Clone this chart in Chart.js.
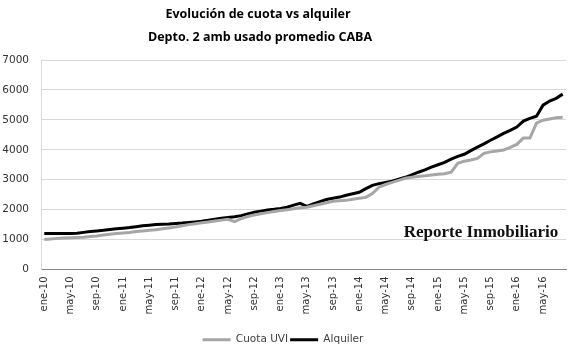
<!DOCTYPE html>
<html>
<head>
<meta charset="utf-8">
<script src="https://cdn.jsdelivr.net/npm/chart.js@4"></script>
<style>
  html, body { margin: 0; padding: 0; background: #fff; }
  #wrap { width: 575px; height: 352px; }
</style>
</head>
<body>
<div id="wrap"><canvas id="chartCuota" width="575" height="352"></canvas></div>
<script>
const meses = ['ene', 'feb', 'mar', 'abr', 'may', 'jun', 'jul', 'ago', 'sep', 'oct', 'nov', 'dic'];
const anios = ['10', '11', '12', '13', '14', '15', '16'];

// ene-10 .. ago-16
const categorias = [];
anios.forEach(a => meses.forEach(m => categorias.push(m + '-' + a)));
categorias.length = 80;

const cuotaUVI = [
  1000, 1020, 1040, 1050, 1060, 1070, 1080, 1100, 1120, 1150, 1180, 1200,
  1220, 1240, 1270, 1290, 1310, 1330, 1360, 1390, 1420, 1460, 1500, 1530,
  1560, 1590, 1620, 1650, 1680, 1600, 1700, 1770, 1820, 1860, 1900, 1940,
  1970, 2000, 2030, 2060, 2080, 2130, 2180, 2230, 2280, 2300, 2310, 2350,
  2380, 2410, 2540, 2750, 2840, 2910, 2980, 3050, 3080, 3110, 3130, 3160,
  3180, 3200, 3250, 3550, 3620, 3660, 3710, 3880, 3930, 3960, 3990, 4080,
  4180, 4390, 4390, 4890, 4990, 5030, 5070, 5090
];

const alquiler = [
  1200, 1200, 1200, 1200, 1200, 1210, 1240, 1270, 1290, 1310, 1340, 1360,
  1380, 1400, 1430, 1460, 1480, 1500, 1510, 1520, 1540, 1550, 1570, 1590,
  1610, 1650, 1680, 1710, 1740, 1760, 1800, 1860, 1910, 1950, 1990, 2010,
  2040, 2080, 2150, 2210, 2110, 2190, 2270, 2340, 2380, 2420, 2480, 2530,
  2580, 2700, 2810, 2870, 2910, 2950, 3020, 3080, 3160, 3250, 3330, 3420,
  3500, 3580, 3690, 3780, 3850, 3970, 4090, 4200, 4320, 4430, 4550, 4650,
  4760, 4960, 5050, 5120, 5490, 5630, 5720, 5860
];

const yTicks = [0, 1000, 2000, 3000, 4000, 5000, 6000, 7000];
const titulo = ['Evolución de cuota vs alquiler', 'Depto. 2 amb usado promedio CABA'];

// titulo centrado como en el original (algo a la izquierda del centro)
const tituloPlugin = {
  id: 'tituloPlugin',
  afterDraw(chart) {
    const { ctx } = chart;
    ctx.save();
    ctx.font = 'bold 12.5px "Open Sans", sans-serif';
    ctx.fillStyle = '#000';
    ctx.textAlign = 'center';
    ctx.textBaseline = 'middle';
    ctx.fillText(titulo[0], 258, 14);
    ctx.fillText(titulo[1], 260, 37);
    ctx.restore();
  }
};

const marcaAgua = {
  id: 'marcaAgua',
  beforeDatasetsDraw(chart) {
    const { ctx, chartArea } = chart;
    ctx.save();
    ctx.font = 'bold 17px "Liberation Serif", serif';
    ctx.fillStyle = '#111';
    ctx.textAlign = 'center';
    ctx.textBaseline = 'middle';
    ctx.fillText('Reporte Inmobiliario', chartArea.right - 85, chartArea.bottom - 37);
    ctx.restore();
  }
};

const fontTicks = { family: '"DejaVu Sans", Verdana, sans-serif', size: 10 };

new Chart(document.getElementById('chartCuota'), {
  type: 'line',
  data: {
    labels: categorias,
    datasets: [
      {
        label: 'Cuota UVI',
        data: cuotaUVI,
        borderColor: '#a6a6a6',
        backgroundColor: '#a6a6a6',
        borderWidth: 3,
        pointRadius: 0,
        tension: 0
      },
      {
        label: 'Alquiler',
        data: alquiler,
        borderColor: '#000000',
        backgroundColor: '#000000',
        borderWidth: 3,
        pointRadius: 0,
        tension: 0
      }
    ]
  },
  options: {
    responsive: false,
    animation: false,
    layout: { padding: { left: 0, right: 9, top: 60, bottom: -3 } },
    plugins: {
      title: { display: false },
      legend: {
        position: 'bottom',
        labels: {
          color: '#404040',
          font: { family: '"DejaVu Sans", Verdana, sans-serif', size: 10.5 },
          boxWidth: 28,
          boxHeight: 3,
          padding: 2,
          generateLabels: chart =>
            Chart.defaults.plugins.legend.labels.generateLabels(chart).map(l => ({ ...l, lineWidth: 0 }))
        }
      },
      tooltip: { enabled: false }
    },
    scales: {
      x: {
        offset: true,
        grid: { display: false, drawTicks: false },
        border: { color: '#868686', width: 1 },
        ticks: {
          color: '#333',
          font: fontTicks,
          autoSkip: false,
          minRotation: 90,
          maxRotation: 90,
          padding: 7,
          callback: function (val, i) {
            return i % 4 === 0 ? categorias[i] : null;
          }
        },
        afterFit: scale => { scale.height = 63; }
      },
      y: {
        min: 0,
        max: 7000,
        afterBuildTicks: scale => { scale.ticks = yTicks.map(v => ({ value: v })); },
        grid: { color: '#d9d9d9', drawTicks: false },
        border: { color: '#d9d9d9', width: 1 },
        ticks: {
          color: '#333',
          font: { family: '"DejaVu Sans", Verdana, sans-serif', size: 10.5 },
          padding: 12,
          callback: v => String(v)
        },
        afterFit: scale => { scale.width = 41; }
      }
    }
  },
  plugins: [tituloPlugin, marcaAgua]
});
</script>
</body>
</html>
